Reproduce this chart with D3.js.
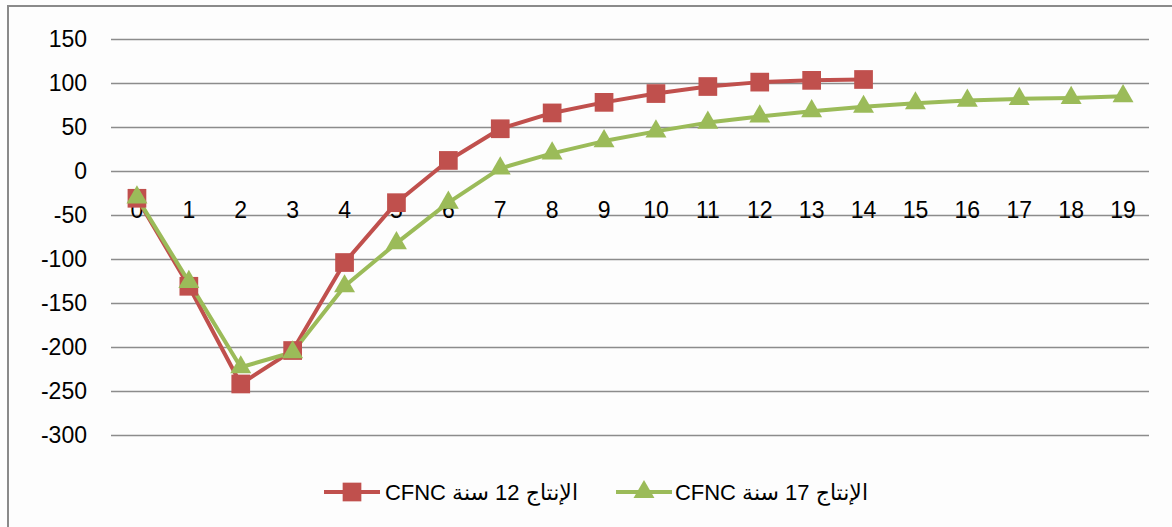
<!DOCTYPE html>
<meta charset="utf-8">
<style>
  body { margin: 0; background: #fff; }
  svg { display: block; }
  .tick text { font-family: "Liberation Sans", Arial, sans-serif; fill: #000; }
  .legend text { font-family: "Liberation Sans", "DejaVu Sans", sans-serif; fill: #000; }
</style>
<svg width="1172" height="527"></svg>
<script src="https://cdnjs.cloudflare.com/ajax/libs/d3/7.8.5/d3.min.js"></script>
<script>
  // data
  var categories = ["0", "1", "2", "3", "4", "5", "6", "7", "8", "9", "10", "11", "12", "13", "14", "15", "16", "17", "18", "19"];
  var prod12 = [-31, -131, -242, -204, -104, -36, 12, 48, 66, 78, 88, 96, 101, 103, 104];
  var prod17 = [-30, -126, -223, -206, -131, -82, -36, 3, 20, 34, 45, 55, 62, 68, 73, 77, 80, 82, 83, 85];
  var yTicks = [150, 100, 50, 0, -50, -100, -150, -200, -250, -300];
  var seriesNames = ["الإنتاج 12 سنة CFNC", "الإنتاج 17 سنة CFNC"];

  var svg = d3.select("svg");

  svg.append("rect")
    .attr("width", 1172).attr("height", 527)
    .attr("fill", "#fdfdfd");

  // outer frame (only top and left edges are in view)
  svg.append("rect")
    .attr("x", 8).attr("y", 6)
    .attr("width", 1200).attr("height", 560)
    .attr("fill", "none")
    .attr("stroke", "#8a8a8a")
    .attr("stroke-width", 2);

  var x = d3.scaleBand().domain(categories).range([111, 1149]);
  var y = d3.scaleLinear().domain([-300, 150]).range([435, 39]);

  // gridlines + y labels (plain hyphen minus like the original)
  var yAxis = svg.append("g")
    .attr("transform", "translate(111,0)")
    .call(d3.axisLeft(y).tickValues(yTicks).tickFormat(String)
      .tickSize(-(1149 - 111)).tickPadding(24));
  yAxis.select(".domain").remove();
  yAxis.selectAll(".tick line").attr("stroke", "#8c8c8c").attr("stroke-width", 1.4);
  yAxis.selectAll(".tick text").style("font-size", "23px");

  // category labels, sitting under the zero line
  var xAxis = svg.append("g")
    .attr("transform", "translate(0," + y(0) + ")")
    .call(d3.axisBottom(x).tickSize(0).tickPadding(31));
  xAxis.select(".domain").remove();
  xAxis.selectAll(".tick text").style("font-size", "23px");

  var line = d3.line()
    .x(function (d, i) { return x(categories[i]) + x.bandwidth() / 2; })
    .y(function (d) { return y(d); });

  var series = [
    { name: seriesNames[0], values: prod12, color: "#c0504d", symbol: d3.symbolSquare, size: 350 },
    { name: seriesNames[1], values: prod17, color: "#9bbb59", symbol: d3.symbolTriangle, size: 190 }
  ];

  series.forEach(function (s) {
    svg.append("path")
      .datum(s.values)
      .attr("fill", "none")
      .attr("stroke", s.color)
      .attr("stroke-width", 4)
      .attr("stroke-linejoin", "round")
      .attr("d", line);
  });

  series.forEach(function (s) {
    svg.append("g").selectAll("path")
      .data(s.values)
      .join("path")
      .attr("transform", function (d, i) {
        return "translate(" + (x(categories[i]) + x.bandwidth() / 2) + "," + y(d) + ")";
      })
      .attr("fill", s.color)
      .attr("d", d3.symbol().type(s.symbol).size(s.size));
  });

  // legend
  var legendPos = [{ x0: 324, xr: 578 }, { x0: 616, xr: 868 }];
  var legend = svg.append("g").attr("class", "legend");
  series.forEach(function (s, i) {
    var g = legend.append("g").attr("transform", "translate(" + legendPos[i].x0 + ",492)");
    g.append("line")
      .attr("x1", 0).attr("x2", 56)
      .attr("stroke", s.color).attr("stroke-width", 4);
    g.append("path")
      .attr("transform", "translate(28,0)")
      .attr("fill", s.color)
      .attr("d", d3.symbol().type(s.symbol).size(s.size));
    legend.append("text")
      .attr("x", legendPos[i].xr)
      .attr("y", 492)
      .attr("dy", "0.36em")
      .attr("direction", "rtl")
      .attr("text-anchor", "start")
      .style("font-size", "22px")
      .text(s.name);
  });
</script>
